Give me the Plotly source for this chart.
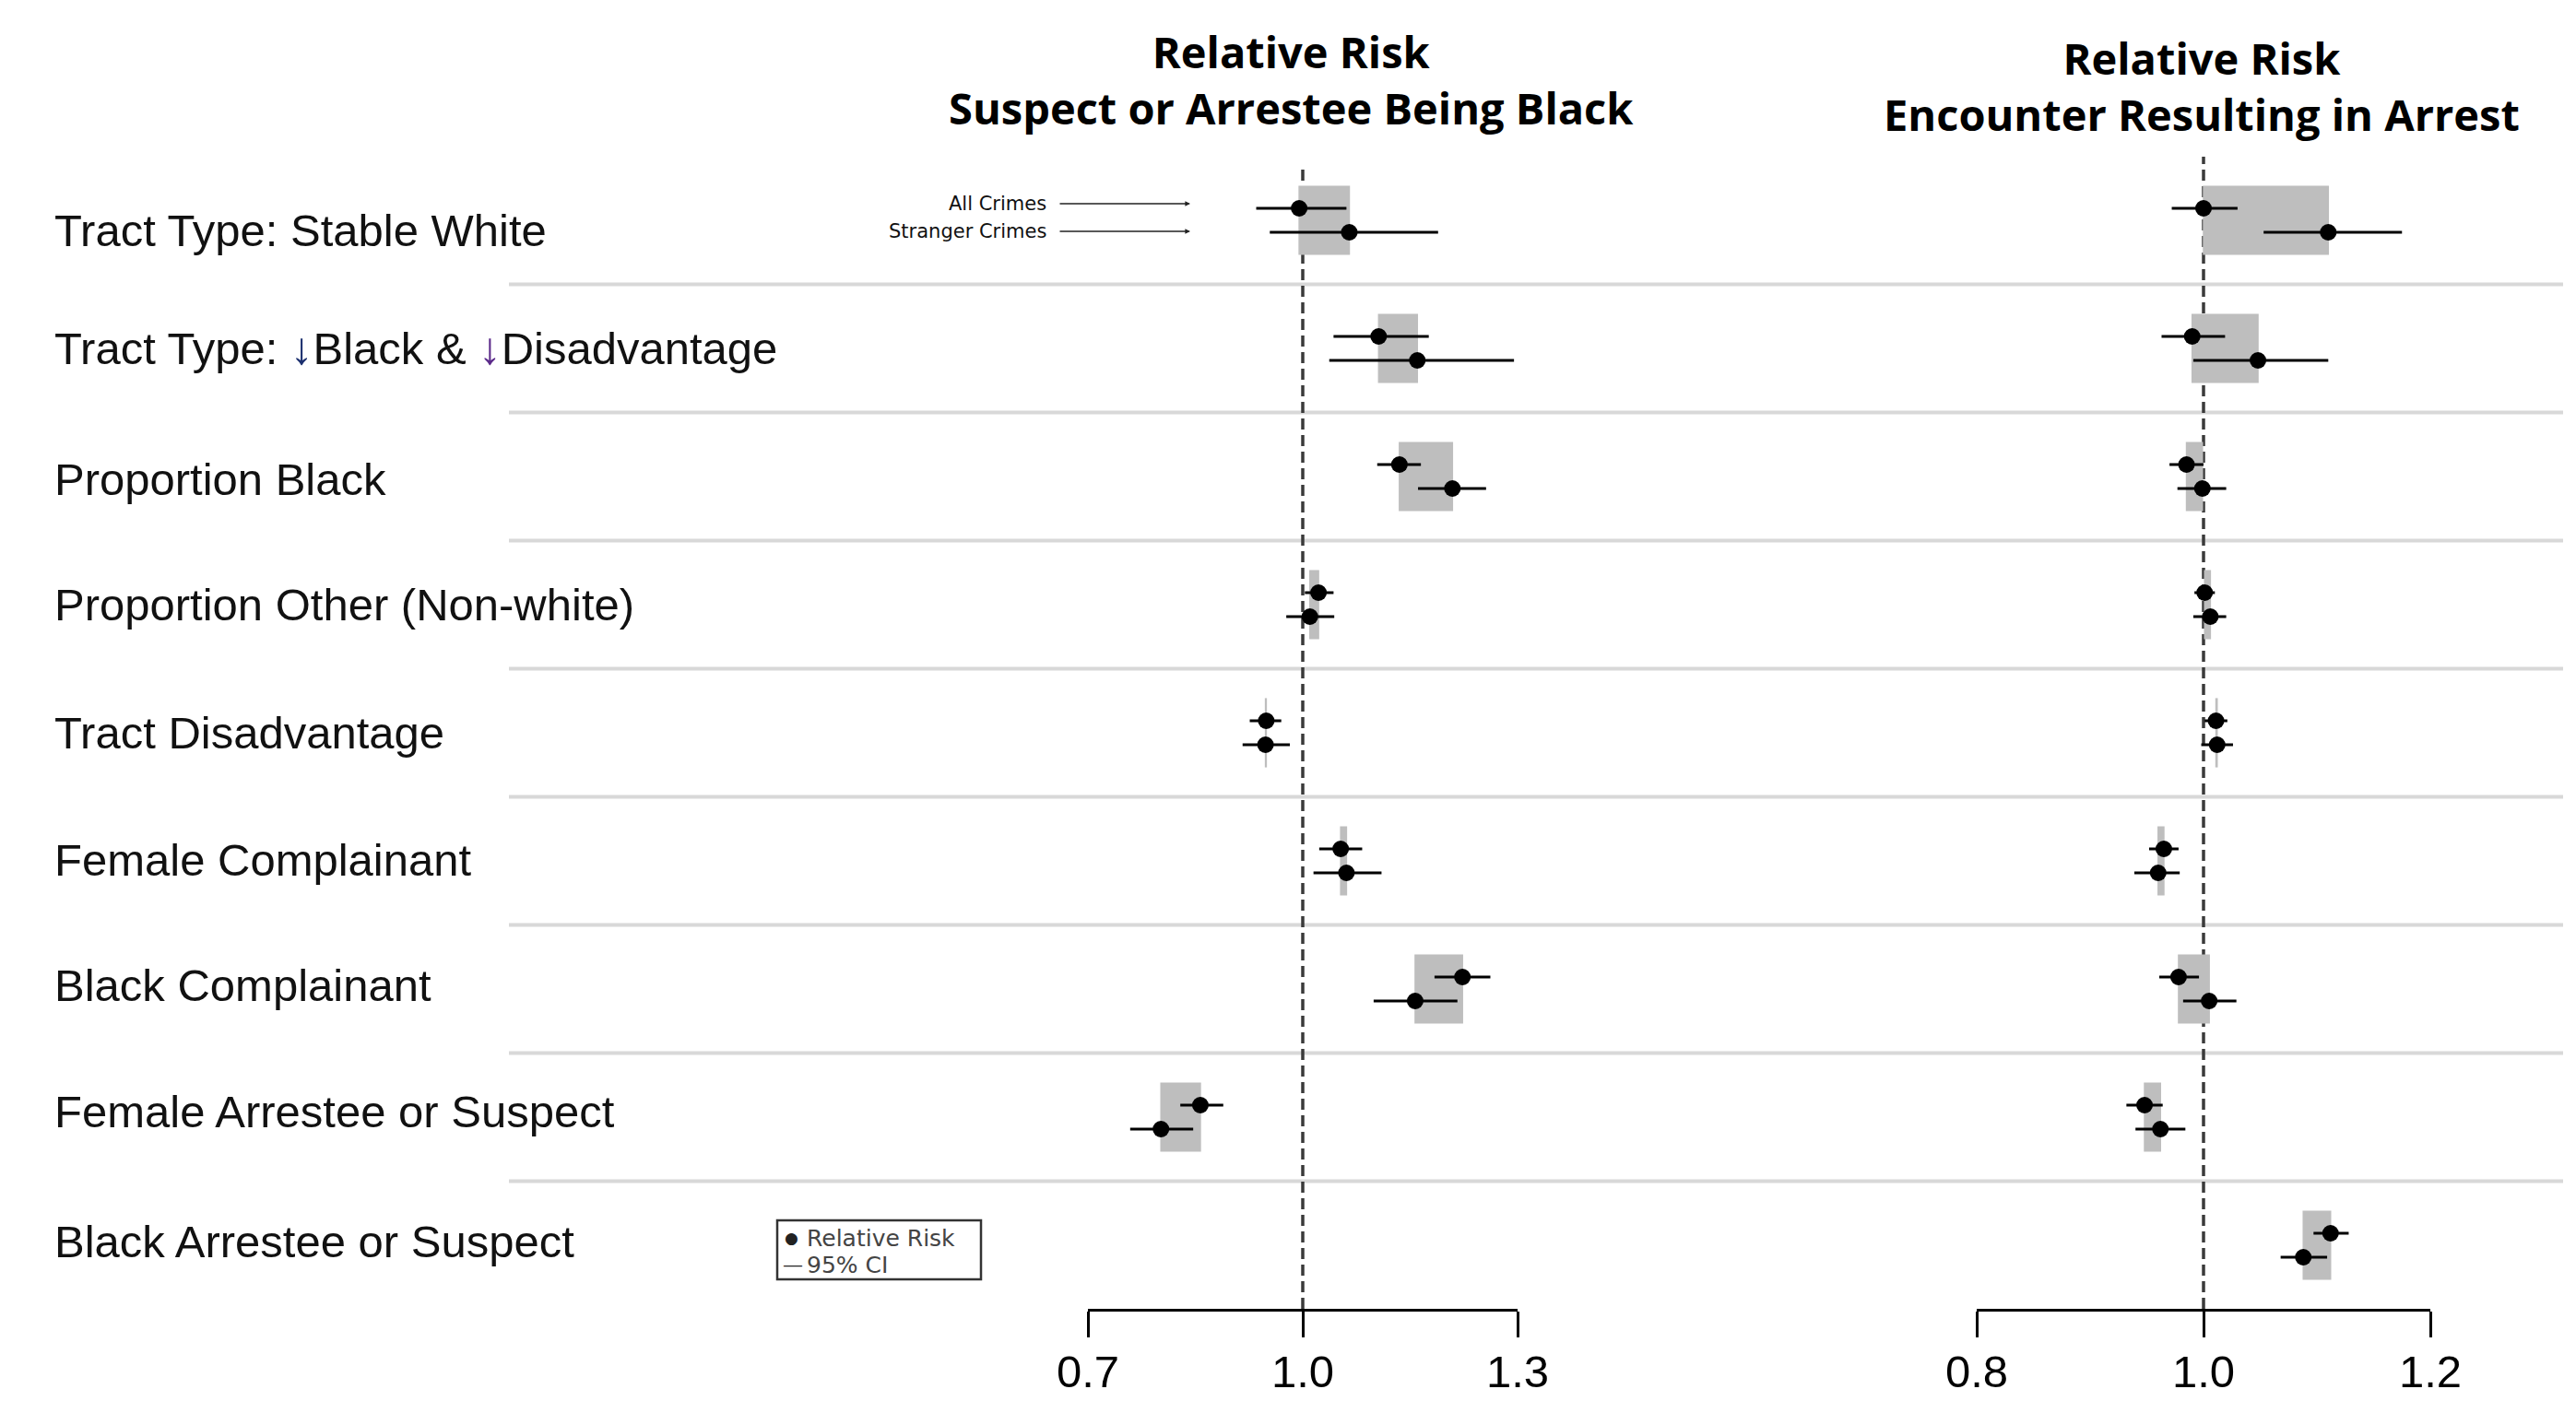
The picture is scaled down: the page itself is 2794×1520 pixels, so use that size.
import plotly.graph_objects as go

W, H = 2794, 1520

# ---------------- data ----------------
row_labels = [
    "Tract Type: Stable White",
    "Tract Type: <span style='color:#1b2f6e'>↓</span>Black &amp; <span style='color:#5b2a8a'>↓</span>Disadvantage",
    "Proportion Black",
    "Proportion Other (Non-white)",
    "Tract Disadvantage",
    "Female Complainant",
    "Black Complainant",
    "Female Arrestee or Suspect",
    "Black Arrestee or Suspect",
]
rows_left = [1, 2, 3, 4, 5, 6, 7, 8]
rows_right = [1, 2, 3, 4, 5, 6, 7, 8, 9]

# Panel 1: Suspect or Arrestee Being Black
blk_all_rr = [0.995, 1.106, 1.135, 1.022, 0.949, 1.053, 1.223, 0.857]
blk_all_lo = [0.935, 1.043, 1.104, 1.003, 0.926, 1.023, 1.184, 0.829]
blk_all_hi = [1.061, 1.176, 1.165, 1.043, 0.970, 1.083, 1.262, 0.889]
blk_str_rr = [1.065, 1.160, 1.209, 1.010, 0.948, 1.061, 1.157, 0.802]
blk_str_lo = [0.954, 1.037, 1.161, 0.977, 0.916, 1.015, 1.099, 0.759]
blk_str_hi = [1.189, 1.295, 1.256, 1.044, 0.982, 1.110, 1.216, 0.847]

# Panel 2: Encounter Resulting in Arrest
arr_all_rr = [1.000, 0.990, 0.985, 1.001, 1.011, 0.965, 0.978, 0.948, 1.112]
arr_all_lo = [0.972, 0.963, 0.970, 0.992, 1.001, 0.952, 0.961, 0.932, 1.097]
arr_all_hi = [1.030, 1.019, 1.000, 1.010, 1.021, 0.978, 0.996, 0.964, 1.128]
arr_str_rr = [1.110, 1.048, 0.999, 1.006, 1.012, 0.960, 1.005, 0.962, 1.088]
arr_str_lo = [1.053, 0.991, 0.977, 0.991, 0.998, 0.939, 0.982, 0.940, 1.068]
arr_str_hi = [1.175, 1.110, 1.020, 1.020, 1.026, 0.979, 1.029, 0.984, 1.109]

left_ticks = [0.7, 1.0, 1.3]
left_ticktext = ["0.7", "1.0", "1.3"]
right_ticks = [0.8, 1.0, 1.2]
right_ticktext = ["0.8", "1.0", "1.2"]

left_title = "Relative Risk<br>Suspect or Arrestee Being Black"
right_title = "Relative Risk<br>Encounter Resulting in Arrest"

# ---------------- geometry helpers ----------------
def px(x):
    return x / W

def py(y):
    return 1 - y / H

ROW0, ROWSTEP = 239.0, 139.0
AXIS_Y = 1420.0
OFF = 13.0 / ROWSTEP
BOXH = 0.265

y_top = 1 - ROW0 / ROWSTEP
y_bot = 1 + (AXIS_Y - ROW0) / ROWSTEP

fig = go.Figure()

def add_series(xs, lo, hi, rows, offset, xaxis):
    fig.add_trace(go.Scatter(
        x=xs, y=[r + offset for r in rows], mode="markers",
        xaxis=xaxis, yaxis="y",
        marker=dict(color="black", size=18),
        error_x=dict(type="data", symmetric=False,
                     array=[h - v for h, v in zip(hi, xs)],
                     arrayminus=[v - l for v, l in zip(xs, lo)],
                     color="black", thickness=3, width=0),
        showlegend=False, hoverinfo="skip"))

add_series(blk_all_rr, blk_all_lo, blk_all_hi, rows_left, -OFF, "x")
add_series(blk_str_rr, blk_str_lo, blk_str_hi, rows_left, +OFF, "x")
add_series(arr_all_rr, arr_all_lo, arr_all_hi, rows_right, -OFF, "x2")
add_series(arr_str_rr, arr_str_lo, arr_str_hi, rows_right, +OFF, "x2")

shapes = []
# separators
for r in range(1, 9):
    shapes.append(dict(type="line", xref="paper", yref="y", layer="below",
                       x0=px(552), x1=px(2780), y0=r + 0.5, y1=r + 0.5,
                       line=dict(color="#d8d8d8", width=4)))
# gray boxes between the two estimates
def add_boxes(a, s, rows, xref):
    for va, vs, r in zip(a, s, rows):
        shapes.append(dict(type="rect", xref=xref, yref="y", layer="below",
                           x0=min(va, vs), x1=max(va, vs),
                           y0=r - BOXH, y1=r + BOXH,
                           fillcolor="#bebebe", line=dict(color="#bebebe", width=1.5)))
add_boxes(blk_all_rr, blk_str_rr, rows_left, "x")
add_boxes(arr_all_rr, arr_str_rr, rows_right, "x2")
# dashed reference lines
shapes.append(dict(type="line", xref="x", yref="paper", layer="below",
                   x0=1.0, x1=1.0, y0=py(AXIS_Y), y1=py(180),
                   line=dict(color="#3a3a3a", width=3.5, dash="12px,6px")))
shapes.append(dict(type="line", xref="x2", yref="paper", layer="below",
                   x0=1.0, x1=1.0, y0=py(AXIS_Y), y1=py(170),
                   line=dict(color="#3a3a3a", width=3.5, dash="12px,6px")))
# legend box
shapes.append(dict(type="rect", xref="paper", yref="paper",
                   x0=px(843), x1=px(1064), y0=py(1388), y1=py(1324),
                   line=dict(color="#333333", width=2.5), fillcolor="white"))

annotations = []
LABEL_FONT = "Liberation Sans, Arial, Helvetica, sans-serif"
SMALL_FONT = "DejaVu Sans, Liberation Sans, sans-serif"
label_nudge = [0.08, 0.0, 0.02, 0.0, 0.0, -0.01, -0.03, -0.04, -0.03]
for i, lab in enumerate(row_labels):
    r = i + 1
    annotations.append(dict(text=lab, xref="paper", yref="y", x=px(57),
                            y=r + label_nudge[i],
                            xanchor="left", yanchor="middle", showarrow=False,
                            font=dict(family=LABEL_FONT, size=49, color="#111111")))

TITLE_FONT = dict(family="Open Sans, Noto Sans, sans-serif", size=47, color="black", weight=700)
for txt, x, y in [(left_title, 1400, 87), (right_title, 2388, 93)]:
    annotations.append(dict(text=txt, xref="paper", yref="paper", x=px(x), y=py(y),
                            xanchor="center", yanchor="middle", align="center",
                            showarrow=False, font=TITLE_FONT))

# series key annotations
for txt, y in [("All Crimes", 221), ("Stranger Crimes", 251)]:
    annotations.append(dict(text=txt, xref="paper", yref="paper", x=px(1137), y=py(y),
                            xanchor="right", yanchor="middle", showarrow=False,
                            font=dict(family=SMALL_FONT, size=21, color="#111111")))
    annotations.append(dict(text="", xref="paper", yref="paper", x=px(1291), y=py(y),
                            ax=-143, ay=0, axref="pixel", ayref="pixel",
                            showarrow=True, arrowhead=2, arrowsize=0.7, arrowwidth=1.6,
                            arrowcolor="#222222"))

# legend text
LEG_FONT = dict(family=SMALL_FONT, size=25, color="#444444")
annotations.append(dict(text="●", xref="paper", yref="paper", x=px(859), y=py(1343),
                        xanchor="center", yanchor="middle", showarrow=False,
                        font=dict(family="DejaVu Sans", size=17, color="#222222")))
annotations.append(dict(text="—", xref="paper", yref="paper", x=px(860), y=py(1372),
                        xanchor="center", yanchor="middle", showarrow=False,
                        font=dict(family=LABEL_FONT, size=20, color="#222222")))
annotations.append(dict(text="Relative Risk", xref="paper", yref="paper", x=px(873), y=py(1343),
                        xanchor="left", yanchor="middle", showarrow=False, font=LEG_FONT))
annotations.append(dict(text="95% CI", xref="paper", yref="paper", x=px(873), y=py(1372),
                        xanchor="left", yanchor="middle", showarrow=False, font=LEG_FONT))

axis_common = dict(showgrid=False, zeroline=False, showline=True, linecolor="black",
                   linewidth=2.5, ticks="outside", ticklen=28, tickwidth=2.5,
                   tickcolor="black", anchor="y", automargin=False,
                   ticklabelstandoff=-5,
                   tickfont=dict(family=LABEL_FONT, size=49, color="black"))

fig.update_layout(
    width=W, height=H,
    margin=dict(l=0, r=0, t=0, b=0, pad=0, autoexpand=False),
    paper_bgcolor="white", plot_bgcolor="white",
    xaxis=dict(domain=[px(1180), px(1646)], range=[0.7, 1.3],
               tickvals=left_ticks, ticktext=left_ticktext, **axis_common),
    xaxis2=dict(domain=[px(2144), px(2636)], range=[0.8, 1.2],
                tickvals=right_ticks, ticktext=right_ticktext, **axis_common),
    yaxis=dict(domain=[1 - AXIS_Y / H, 1], range=[y_bot, y_top], visible=False,
               automargin=False),
    shapes=shapes, annotations=annotations, showlegend=False,
)

fig.write_html("out.html", config={"displayModeBar": False},
               post_script="document.body.style.margin='0';document.body.style.overflow='hidden';")
